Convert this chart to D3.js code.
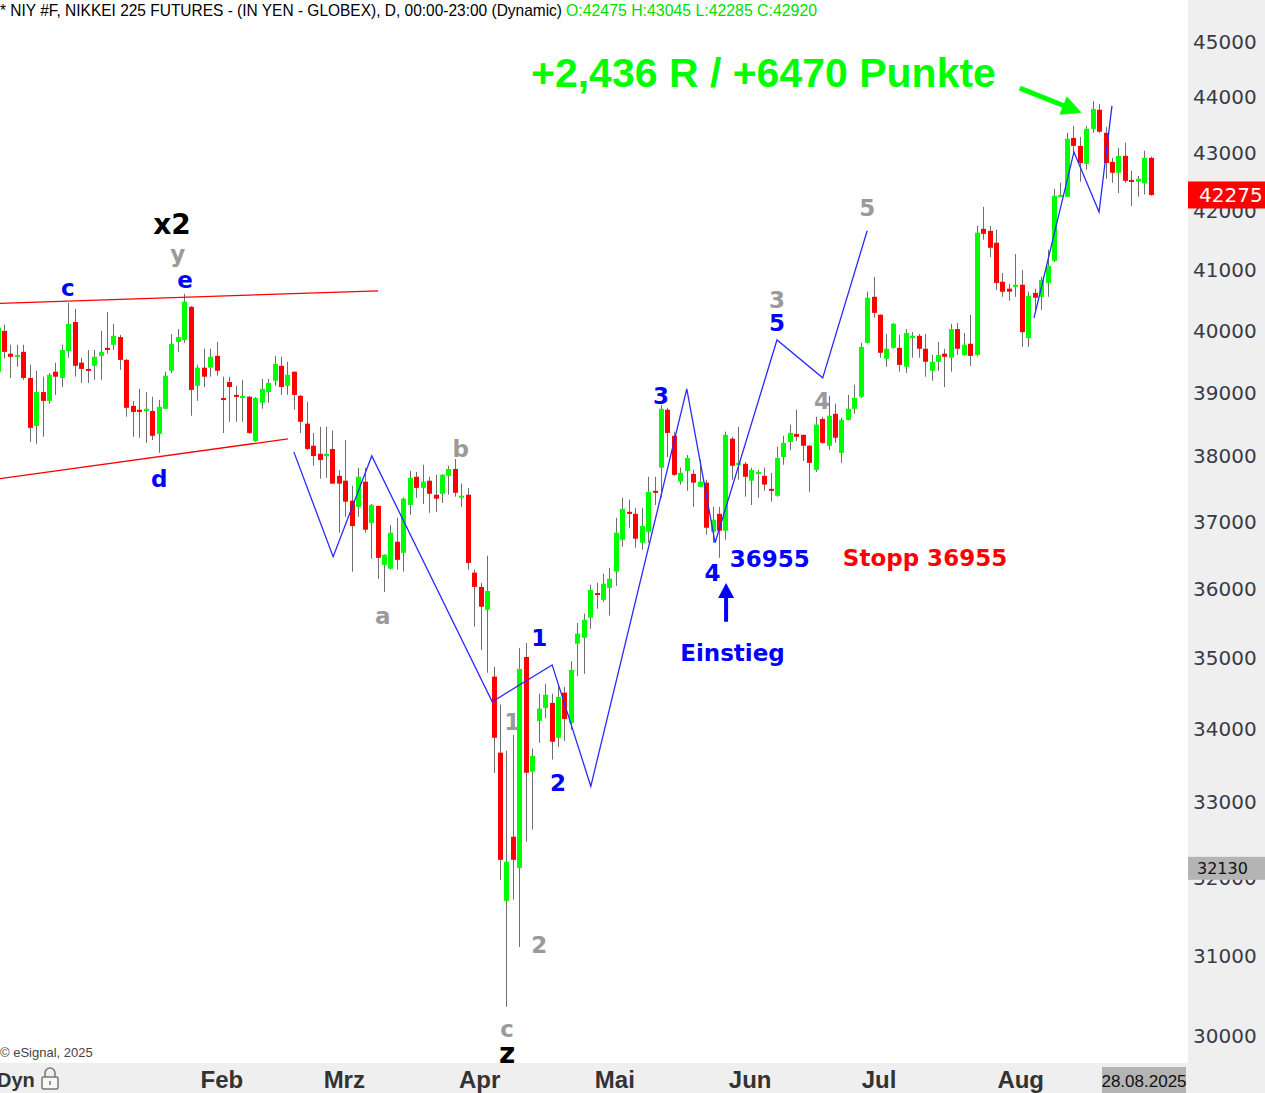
<!DOCTYPE html>
<html><head><meta charset="utf-8">
<script src="https://cdn.jsdelivr.net/npm/d3@7"></script>
<style>html,body{margin:0;padding:0;background:#fff;overflow:hidden}</style>
</head><body>
<svg id="c" width="1265" height="1093"></svg>
<script>
const dates = [
"2024-12-10","2024-12-11","2024-12-12","2024-12-13","2024-12-16","2024-12-17","2024-12-18","2024-12-19","2024-12-20","2024-12-23","2024-12-24","2024-12-26","2024-12-27","2024-12-30","2024-12-31",
"2025-01-02","2025-01-03","2025-01-06","2025-01-07","2025-01-08","2025-01-09","2025-01-10","2025-01-13","2025-01-14","2025-01-15","2025-01-16","2025-01-17","2025-01-21","2025-01-22","2025-01-23","2025-01-24","2025-01-27","2025-01-28","2025-01-29","2025-01-30","2025-01-31",
"2025-02-03","2025-02-04","2025-02-05","2025-02-06","2025-02-07","2025-02-10","2025-02-11","2025-02-12","2025-02-13","2025-02-14","2025-02-18","2025-02-19","2025-02-20","2025-02-21","2025-02-24","2025-02-25","2025-02-26","2025-02-27","2025-02-28",
"2025-03-03","2025-03-04","2025-03-05","2025-03-06","2025-03-07","2025-03-10","2025-03-11","2025-03-12","2025-03-13","2025-03-14","2025-03-17","2025-03-18","2025-03-19","2025-03-20","2025-03-21","2025-03-24","2025-03-25","2025-03-26","2025-03-27","2025-03-28","2025-03-31",
"2025-04-01","2025-04-02","2025-04-03","2025-04-04","2025-04-07","2025-04-08","2025-04-09","2025-04-10","2025-04-11","2025-04-14","2025-04-15","2025-04-16","2025-04-17","2025-04-21","2025-04-22","2025-04-23","2025-04-24","2025-04-25","2025-04-28","2025-04-29","2025-04-30",
"2025-05-01","2025-05-02","2025-05-05","2025-05-06","2025-05-07","2025-05-08","2025-05-09","2025-05-12","2025-05-13","2025-05-14","2025-05-15","2025-05-16","2025-05-19","2025-05-20","2025-05-21","2025-05-22","2025-05-23","2025-05-27","2025-05-28","2025-05-29","2025-05-30",
"2025-06-02","2025-06-03","2025-06-04","2025-06-05","2025-06-06","2025-06-09","2025-06-10","2025-06-11","2025-06-12","2025-06-13","2025-06-16","2025-06-17","2025-06-18","2025-06-20","2025-06-23","2025-06-24","2025-06-25","2025-06-26","2025-06-27","2025-06-30",
"2025-07-01","2025-07-02","2025-07-03","2025-07-07","2025-07-08","2025-07-09","2025-07-10","2025-07-11","2025-07-14","2025-07-15","2025-07-16","2025-07-17","2025-07-18","2025-07-21","2025-07-22","2025-07-23","2025-07-24","2025-07-25","2025-07-28","2025-07-29","2025-07-30","2025-07-31",
"2025-08-01","2025-08-04","2025-08-05","2025-08-06","2025-08-07","2025-08-08","2025-08-11","2025-08-12","2025-08-13","2025-08-14","2025-08-15","2025-08-18","2025-08-19","2025-08-20","2025-08-21","2025-08-22","2025-08-25","2025-08-26","2025-08-27","2025-08-28"
];
const open = [
39335,39995,39625,39575,39655,39235,38475,39010,38870,39335,
39235,39670,40140,39480,39380,39430,39590,39720,39770,39895,
39525,38790,38730,38710,38710,38350,38745,39350,39815,39850,
40390,39110,39400,39400,39590,38915,39170,38965,38915,38935,
38240,38840,39010,39190,39430,39110,39335,38950,38510,38165,
38040,38005,38115,37700,37625,37320,37225,37610,36980,37240,
36355,36300,36700,36535,37255,37685,37515,37625,37410,37425,
37700,37805,37380,37410,36240,36030,35695,34735,33675,31700,
32540,32130,35015,33415,34115,34295,34365,33880,34510,34085,
35205,35290,35580,35940,35840,36015,36255,36730,37150,37120,
36685,36850,37470,37825,38730,38320,37610,37775,37730,37530,
37595,36850,37120,36865,38275,37870,37885,37625,37745,37700,
37500,37395,37990,38225,38350,38335,38165,37790,38585,38165,
38665,38055,38570,38745,38935,39800,40555,40260,39545,39720,
39720,39415,39880,39915,39705,39350,39495,39625,39560,40025,
39605,39785,39605,41695,41660,41460,40805,40690,40720,40755,
39880,40620,40555,40785,41155,42245,42245,43270,43130,42815,
43430,43770,43360,42850,42660,42955,42535,42505,42475,42920
];
const high = [
40095,40095,39770,39770,39770,39445,39350,39255,39315,39480,
39770,40455,40355,39560,39685,39685,39995,40305,40110,39930,
39540,38870,39060,39010,38935,38885,39335,39945,40025,40605,
40400,39445,39705,39705,39815,39255,39255,39110,39205,38950,
38930,39220,39220,39590,39575,39495,39340,38965,38855,38365,
38460,38460,38400,37790,38255,37545,37825,37825,37270,37245,
36510,36950,37060,37365,37775,37760,37870,37685,37715,37730,
37855,37960,37580,37515,36285,36090,36490,34875,34340,33700,
33920,35145,35215,33730,34495,34635,34495,34605,34590,34955,
35505,35640,36060,36090,36225,36310,37060,37365,37335,37210,
37210,37685,37685,38805,38760,38385,37825,38020,37790,37945,
37640,37225,37225,38385,38305,38460,37915,37825,37790,37825,
37745,38150,38320,38495,38730,38340,38180,38620,38620,38950,
38825,38605,38965,39125,39800,40640,40885,40265,39945,40125,
39930,40025,39975,39945,39945,39605,39815,39705,40110,40125,
39960,40260,41745,42070,41745,41680,40950,40770,41270,41000,
40640,40690,40885,41340,42380,42485,43360,43485,43290,43485,
43925,43875,43465,42920,43095,43185,42695,42605,43045,42940
];
const low = [
39285,39545,39235,39415,39205,38225,38195,38305,38825,38965,
39090,39560,39255,39155,39155,39205,39205,39625,39685,39365,
38620,38305,38290,38210,38255,38055,38740,39315,39655,39800,
38635,38870,39090,39255,39270,38365,38540,38540,38540,38350,
38225,38745,38840,39110,38965,38965,38730,38365,38100,37855,
37655,37670,37575,36835,37075,36255,37075,36835,36445,36150,
35955,36285,36285,36255,37105,37365,37270,37135,37150,37285,
37410,37380,37225,36285,35450,35115,34790,33400,31970,30360,
31715,31110,32475,32635,33810,34155,33580,33755,33835,33990,
34745,34775,35420,35710,35810,35610,36045,36625,36910,36610,
36580,36685,37255,37365,37990,37700,37565,37470,37225,37525,
36805,36685,36460,36730,37640,37640,37380,37255,37365,37470,
37305,37380,37870,38100,38240,37930,37455,37760,38195,38100,
38210,37900,38560,38665,38915,39790,40210,39560,39415,39710,
39335,39315,39560,39560,39255,39190,39350,39090,39335,39605,
39590,39430,39590,41510,41220,40670,40555,40490,40555,39735,
39735,40340,40340,40555,41135,42240,42240,43005,42505,42710,
43360,43360,42555,42485,42310,42485,42085,42245,42285,42260
];
const close = [
40045,39655,39575,39605,39235,38445,39010,38870,39285,39255,
39685,40110,39430,39380,39350,39575,39655,39685,39915,39525,
38760,38695,38695,38745,38320,38775,39270,39785,39895,40475,
39045,39400,39255,39575,39350,38885,39090,38935,38950,38365,
38915,39060,39155,39460,39090,39285,38965,38540,38115,38005,
37945,38040,37580,37580,37305,36935,37685,36880,37255,36460,
36505,36835,36430,37350,37670,37515,37610,37425,37350,37715,
37805,37440,37395,36385,36030,35740,35970,33880,32235,32210,
32235,34845,33400,33630,34285,34480,33825,34450,34140,34830,
35350,35550,35985,35915,36075,36150,36835,37195,37120,36745,
36935,37455,37440,38745,38365,37715,37745,37975,37595,37610,
36910,37030,36865,38335,37855,37900,37685,37790,37760,37565,
37470,37975,38210,38365,38305,38165,37900,38495,38210,38635,
38290,38570,38745,38915,39735,40540,40290,39640,39705,40110,
39445,39960,39915,39705,39495,39495,39605,39575,40025,39705,
39770,39590,41630,41610,41375,40785,40640,40640,40755,39975,
40570,40540,40835,41070,42260,42275,43255,43130,42830,43430,
43785,43380,42830,42660,42955,42520,42505,42555,42920,42275
];
const yTicks = [30000,31000,32000,33000,34000,35000,36000,37000,38000,39000,40000,41000,42000,43000,44000,45000];
const monthTickDates = ["2025-02-03","2025-03-03","2025-04-01","2025-05-01","2025-06-02","2025-07-01","2025-08-01"];
const monthTickLabels = ["Feb","Mrz","Apr","Mai","Jun","Jul","Aug"];
const titleText = "* NIY #F, NIKKEI 225 FUTURES - (IN YEN - GLOBEX), D, 00:00-23:00 (Dynamic)";
const ohlcText = "O:42475 H:43045 L:42285 C:42920";
const lastPrice = 42275;
const markerPrice = 32130;
const lastDateLabel = "28.08.2025";
const copyrightText = "© eSignal, 2025";
// wave annotation lines: [bar index, price]
const waveA = [[46,38070],[52.1,36476],[58.1,38006],[76.8,34381],[86.1,34902],[92.1,33216],[107,39060],[111.4,36684],[121,39848],[128.1,39237],[135,41662]];
const waveB = [[160.9,40208],[167.1,43023],[171,41983],[173,43839]];
const trendUpper = [[0,40445],[59.1,40655]];
const trendLower = [[0,37650],[45.1,38273]];
const arrowEntry = [[113.1,35522],[113.1,36089]];
const arrowTarget = [[158.7,44157],[168.3,43715]];
// text labels: text, [bar index, baseline price], kind
const labelText = ["x2","y","e","c","d","a","b","1","1","2","2","c","z","3","4","36955","Stopp 36955","Einstieg","3","5","4","5","+2,436 R / +6470 Punkte"];
const labelPos = [[27.1,41611],[28.0,41137],[29.1,40704],[10.9,40572],[25.1,37532],[59.8,35493],[71.9,37991],[79.9,33988],[84.1,35174],[87.0,33150],[84.1,31033],[79.1,29988],[79.1,29672],[103,38823],[111.0,36119],[119.9,36327],[143.98,36342],[114.1,34957],[121.0,40374],[121.0,39993],[128.0,38744],[135.0,41915],[118.9,44180]];
const labelKind = ["black","gray","blue","blue","blue","gray","gray","grayBack","blue","blue","gray","gray","black","blue","blue","blue","red","blue","gray","blue","gray","gray","green"];

// ---------- styles ----------
const kindStyle = {
  blue:{fill:"#0000ff",size:23,family:"'DejaVu Sans',sans-serif"},
  gray:{fill:"#9a9a9a",size:23,family:"'DejaVu Sans',sans-serif"},
  grayBack:{fill:"#9a9a9a",size:23,family:"'DejaVu Sans',sans-serif"},
  red:{fill:"#ff0000",size:23,family:"'DejaVu Sans',sans-serif"},
  black:{fill:"#000000",size:28,family:"'DejaVu Sans',sans-serif"},
  green:{fill:"#00ff00",size:41,family:"'Liberation Sans',Arial,sans-serif"}
};
const W = 1265, H = 1093, plotRight = 1188, plotBottom = 1063;

const svg = d3.select("#c");
svg.append("rect").attr("width",W).attr("height",H).attr("fill","#fff");
svg.append("defs").append("clipPath").attr("id","plot")
  .append("rect").attr("x",0).attr("y",0).attr("width",plotRight).attr("height",plotBottom);

const x = d3.scalePoint().domain(dates).range([-2.5, 1150.6]);
const xAt = i => x(dates[0]) + i * x.step();
const y = d3.scaleLog().domain([30000,45000]).range([1036, 41.8]);

const g = svg.append("g").attr("clip-path","url(#plot)");
const data = dates.map((d,i)=>({d, o:open[i], h:high[i], l:low[i], c:close[i]}));

// labels that sit behind candles
const labels = labelText.map((t,i)=>({t, p:labelPos[i], k:labelKind[i]}));
function drawLabels(sel, arr){
  sel.selectAll("text").data(arr).join("text")
    .attr("x", d=>xAt(d.p[0])).attr("y", d=>y(d.p[1]))
    .attr("text-anchor","middle")
    .attr("font-family", d=>kindStyle[d.k].family)
    .attr("font-size", d=>kindStyle[d.k].size)
    .attr("font-weight","bold")
    .attr("fill", d=>kindStyle[d.k].fill)
    .text(d=>d.t);
}
drawLabels(g.append("g"), labels.filter(d=>d.k==="grayBack"));

// candles
g.append("g").selectAll("line").data(data).join("line")
  .attr("x1", d=>Math.round(x(d.d))+0.5).attr("x2", d=>Math.round(x(d.d))+0.5)
  .attr("y1", d=>y(d.h)).attr("y2", d=>y(d.l))
  .attr("stroke","#6e6e6e").attr("stroke-width",1);
g.append("g").selectAll("rect").data(data).join("rect")
  .attr("x", d=>Math.round(x(d.d))-2).attr("width",5)
  .attr("y", d=>y(Math.max(d.o,d.c)))
  .attr("height", d=>Math.max(2, Math.abs(y(d.o)-y(d.c))))
  .attr("fill", d=>d.c>=d.o ? "#00ff00" : "#ff0000");

// trend lines and waves
const line = d3.line().x(p=>xAt(p[0])).y(p=>y(p[1]));
g.append("path").attr("d", line(trendUpper)).attr("fill","none").attr("stroke","#ff0000").attr("stroke-width",1.3);
g.append("path").attr("d", line(trendLower)).attr("fill","none").attr("stroke","#ff0000").attr("stroke-width",1.3);
g.append("path").attr("d", line(waveA)).attr("fill","none").attr("stroke","#2a2aff").attr("stroke-width",1.3);
g.append("path").attr("d", line(waveB)).attr("fill","none").attr("stroke","#2a2aff").attr("stroke-width",1.3);

// arrows
function arrow(pts, color, shaftW, headL, headW){
  const x1 = xAt(pts[0][0]), y1 = y(pts[0][1]), x2 = xAt(pts[1][0]), y2 = y(pts[1][1]);
  const dx = x2-x1, dy = y2-y1, len = Math.hypot(dx,dy), ux = dx/len, uy = dy/len;
  const bx = x2-ux*headL, by = y2-uy*headL;
  g.append("line").attr("x1",x1).attr("y1",y1).attr("x2",bx+ux*1).attr("y2",by+uy*1)
    .attr("stroke",color).attr("stroke-width",shaftW);
  g.append("path").attr("d",`M${x2},${y2}L${bx-uy*headW/2},${by+ux*headW/2}L${bx+uy*headW/2},${by-ux*headW/2}Z`)
    .attr("fill",color);
}
arrow(arrowEntry, "#0000ff", 4, 15, 16);
arrow(arrowTarget, "#00ff00", 5, 20, 20);

drawLabels(g.append("g"), labels.filter(d=>d.k!=="grayBack"));

// title
svg.append("text").attr("x",0).attr("y",16).attr("font-family","'Liberation Sans Narrow','Arial Narrow','Liberation Sans',sans-serif")
  .attr("font-size",17).attr("fill","#000").attr("textLength",562).attr("lengthAdjust","spacingAndGlyphs").text(titleText);
svg.append("text").attr("x",566).attr("y",16).attr("font-family","'Liberation Sans Narrow','Arial Narrow','Liberation Sans',sans-serif")
  .attr("font-size",17).attr("fill","#00dd00").attr("textLength",251).attr("lengthAdjust","spacingAndGlyphs").text(ohlcText);
svg.append("text").attr("x",0).attr("y",1057).attr("font-family","'Liberation Sans Narrow','Liberation Sans',sans-serif")
  .attr("font-size",13).attr("fill","#444").text(copyrightText);

// right axis panel
svg.append("rect").attr("x",plotRight).attr("y",0).attr("width",W-plotRight).attr("height",H).attr("fill","#efefef");
// bottom axis panel
svg.append("rect").attr("x",0).attr("y",plotBottom).attr("width",plotRight).attr("height",H-plotBottom).attr("fill","#efefef");

const yAxis = svg.append("g").attr("transform",`translate(${plotRight},0)`)
  .call(d3.axisRight(y).tickValues(yTicks).tickSize(0).tickPadding(5).tickFormat(d3.format("d")));
yAxis.select(".domain").remove();
yAxis.selectAll("text").attr("font-family","'DejaVu Sans',sans-serif").attr("font-size",20).attr("fill","#3a3a48");

// price tags
const yl = y(lastPrice);
svg.append("rect").attr("x",plotRight).attr("y",yl-13.5).attr("width",W-plotRight).attr("height",27).attr("fill","#ff0000");
svg.append("text").attr("x",plotRight+11).attr("y",yl+7).attr("font-family","'DejaVu Sans',sans-serif").attr("font-size",20).attr("fill","#fff").text(d3.format("d")(lastPrice));
const ym = y(markerPrice);
svg.append("rect").attr("x",plotRight).attr("y",ym-11).attr("width",W-plotRight).attr("height",23).attr("fill","#b4b4b4");
svg.append("text").attr("x",plotRight+9).attr("y",ym+6).attr("font-family","'DejaVu Sans',sans-serif").attr("font-size",16).attr("fill","#111").text(d3.format("d")(markerPrice));

// bottom axis month labels
const xAxis = svg.append("g").attr("transform",`translate(-8,${plotBottom})`)
  .call(d3.axisBottom(x).tickValues(monthTickDates).tickSize(0).tickPadding(8).tickFormat((d,i)=>monthTickLabels[i]));
xAxis.select(".domain").remove();
xAxis.selectAll("text").attr("font-family","'Liberation Sans',Arial,sans-serif").attr("font-size",24).attr("font-weight","bold").attr("fill","#333");

// Dyn + lock
svg.append("text").attr("x",-3).attr("y",1087).attr("font-family","'Liberation Sans',Arial,sans-serif").attr("font-size",20).attr("font-weight","bold").attr("fill","#333").text("Dyn");
const lock = svg.append("g").attr("fill","none").attr("stroke","#777").attr("stroke-width",1.5);
lock.append("path").attr("d","M45,1077 v-4 a5,5 0 0 1 10,0 v4");
lock.append("rect").attr("x",42).attr("y",1077).attr("width",16).attr("height",12).attr("rx",1.5).attr("fill","#f7f7f7");
lock.append("line").attr("x1",50).attr("y1",1081).attr("x2",50).attr("y2",1085);

// last date box
svg.append("rect").attr("x",1102).attr("y",1067).attr("width",84).attr("height",26).attr("fill","#b4b4b4");
svg.append("text").attr("x",1144).attr("y",1087).attr("text-anchor","middle").attr("font-family","'Liberation Sans Narrow','Liberation Sans',sans-serif").attr("font-size",17).attr("fill","#111").text(lastDateLabel);
</script>
</body></html>
